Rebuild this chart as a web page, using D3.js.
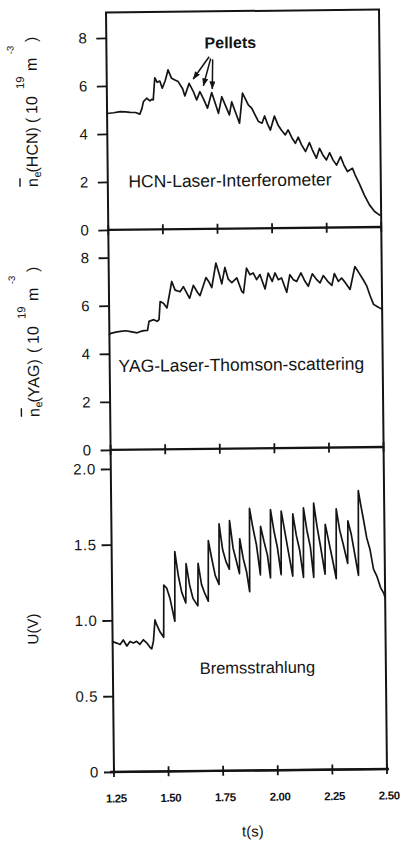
<!DOCTYPE html>
<html><head><meta charset="utf-8">
<script src="https://cdn.jsdelivr.net/npm/d3@7"></script>
<style>
body{margin:0;background:#fff}
text{font-family:"Liberation Sans",Arial,Helvetica,sans-serif}
</style>
</head><body>
<svg id="c" width="400" height="842"></svg>
<script>
// ---------- data ----------
const hcnT = [1.25,1.28,1.31,1.335,1.356,1.38,1.40,1.410,1.417,1.432,1.447,1.455,1.462,1.470,1.481,1.493,1.504,1.518,1.531,1.547,1.562,1.577,1.597,1.607,1.627,1.645,1.661,1.676,1.693,1.710,1.730,1.745,1.760,1.776,1.793,1.810,1.821,1.838,1.856,1.871,1.882,1.897,1.913,1.928,1.943,1.959,1.971,1.984,1.997,2.016,2.032,2.047,2.065,2.078,2.096,2.111,2.124,2.139,2.157,2.175,2.188,2.206,2.221,2.236,2.252,2.267,2.282,2.298,2.317,2.332,2.348,2.371,2.383,2.401,2.424,2.447,2.470,2.490,2.500];
const hcnV = [4.85,4.88,4.92,4.91,4.89,4.88,4.81,5.05,5.33,5.47,5.36,5.42,5.40,6.32,6.13,6.18,5.88,6.20,6.64,6.29,6.22,6.15,5.85,5.55,6.07,5.75,5.38,5.72,5.40,5.03,5.68,5.25,4.81,5.50,5.12,4.74,5.28,4.85,4.39,5.64,5.43,5.15,5.00,4.72,4.45,4.38,4.68,4.35,4.09,4.67,4.30,4.09,3.88,4.09,3.74,3.53,3.78,3.46,3.18,3.55,3.25,2.90,3.31,3.03,2.82,3.12,2.82,2.60,2.95,2.60,2.33,2.46,2.18,1.83,1.34,0.93,0.65,0.52,0.48];

const yagT = [1.25,1.256,1.28,1.301,1.325,1.347,1.378,1.395,1.408,1.425,1.432,1.454,1.469,1.478,1.484,1.499,1.515,1.538,1.553,1.576,1.591,1.619,1.637,1.655,1.667,1.695,1.710,1.721,1.741,1.756,1.767,1.782,1.797,1.813,1.836,1.858,1.866,1.881,1.896,1.911,1.927,1.942,1.965,1.980,1.998,2.011,2.026,2.041,2.064,2.079,2.095,2.110,2.130,2.148,2.163,2.182,2.202,2.217,2.232,2.252,2.271,2.283,2.301,2.316,2.328,2.354,2.377,2.392,2.415,2.431,2.446,2.461,2.477,2.492,2.500];
const yagV = [4.80,4.85,4.90,4.93,4.95,4.91,4.86,4.92,4.95,4.96,5.33,5.40,5.33,5.40,6.15,6.08,5.88,6.98,6.62,6.55,6.76,6.27,6.81,6.52,6.38,7.13,6.92,6.71,7.73,7.26,6.86,7.54,7.05,6.91,7.10,6.54,6.47,7.50,7.23,7.30,7.02,7.23,6.63,7.29,6.94,7.29,7.01,7.08,6.48,7.21,7.00,6.93,7.28,6.93,6.72,7.24,6.99,6.86,7.16,6.92,6.75,7.24,6.91,7.05,6.91,6.57,7.52,7.31,6.97,6.70,6.29,5.94,5.85,5.77,5.76];

const brT = [1.250,1.269,1.284,1.299,1.315,1.330,1.345,1.360,1.375,1.391,1.406,1.421,1.429,1.437,1.445,1.452,1.468,1.484,1.487,1.500,1.515,1.536,1.539,1.554,1.569,1.587,1.590,1.605,1.620,1.642,1.645,1.660,1.675,1.690,1.693,1.708,1.723,1.740,1.743,1.758,1.773,1.788,1.791,1.806,1.821,1.834,1.837,1.852,1.867,1.880,1.883,1.898,1.913,1.930,1.933,1.948,1.963,1.976,1.979,1.994,2.009,2.025,2.028,2.043,2.058,2.078,2.081,2.096,2.111,2.127,2.130,2.145,2.160,2.174,2.177,2.192,2.207,2.226,2.229,2.244,2.259,2.277,2.280,2.295,2.310,2.330,2.333,2.348,2.363,2.379,2.382,2.392,2.403,2.418,2.433,2.448,2.464,2.479,2.494,2.500];
const brU = [0.86,0.85,0.84,0.87,0.83,0.86,0.85,0.86,0.84,0.87,0.85,0.82,0.81,0.86,1.00,0.97,0.92,0.885,1.23,1.21,1.14,0.99,1.45,1.29,1.18,1.11,1.37,1.23,1.14,1.09,1.37,1.23,1.17,1.12,1.52,1.40,1.29,1.23,1.63,1.46,1.38,1.33,1.65,1.47,1.38,1.30,1.53,1.40,1.31,1.18,1.73,1.60,1.49,1.29,1.61,1.51,1.42,1.27,1.72,1.58,1.47,1.29,1.71,1.58,1.45,1.28,1.69,1.55,1.45,1.27,1.73,1.58,1.47,1.27,1.76,1.60,1.47,1.29,1.62,1.51,1.40,1.26,1.72,1.58,1.49,1.36,1.64,1.55,1.42,1.28,1.84,1.75,1.66,1.53,1.45,1.32,1.27,1.20,1.16,1.13];

const xTicks = [1.25,1.50,1.75,2.00,2.25,2.50];
const xTickLabels = ["1.25","1.50","1.75","2.00","2.25","2.50"];
const nTicks = [0,2,4,6,8];
const nTickLabels = ["0","2","4","6","8"];
const uTicks = [0,0.5,1.0,1.5,2.0];
const uTickLabels = ["0","0.5","1.0","1.5","2.0"];
// pellet arrows: [tStart, vStart, tTip, vTip]
const pelletArrows = [[1.720,7.17,1.646,6.25],[1.727,7.10,1.692,5.96],[1.736,7.06,1.733,5.83]];

// ---------- layout ----------
const L=110, R=383, T=11, B1=228.5, B2=448.5, B3=770.5;
const ink="#141414";
const x = d3.scaleLinear().domain([1.25,2.5]).range([L,R]);
const y1 = d3.scaleLinear().domain([0,8]).range([B1,36.5]);
const y2 = d3.scaleLinear().domain([0,8]).range([B2,256.2]);
const y3 = d3.scaleLinear().domain([0,2]).range([B3,467.5]);

const svg = d3.select("#c");
const defs = svg.append("defs");
defs.append("marker").attr("id","ah").attr("markerUnits","userSpaceOnUse")
  .attr("markerWidth",8).attr("markerHeight",6).attr("refX",7.5).attr("refY",3).attr("orient","auto")
  .append("path").attr("d","M0,0 L8,3 L0,6 Z").attr("fill",ink);

const g = svg.append("g").attr("transform","rotate(-0.6 245 392)");

// frame
g.append("rect").attr("x",L).attr("y",T).attr("width",R-L).attr("height",B3-T)
  .attr("fill","none").attr("stroke",ink).attr("stroke-width",2);
[B1,B2].forEach(b=>g.append("line").attr("x1",L).attr("x2",R).attr("y1",b).attr("y2",b)
  .attr("stroke",ink).attr("stroke-width",2.4));
g.append("line").attr("x1",L-4).attr("x2",R+2).attr("y1",B3).attr("y2",B3).attr("stroke",ink).attr("stroke-width",2.4);

// y axes
function yAxis(scale, vals, labels, pad){
  const ax = d3.axisLeft(scale).tickValues(vals).tickFormat((d,i)=>labels[i]).tickSize(10).tickPadding(pad);
  const a = g.append("g").attr("transform",`translate(${L},0)`).call(ax);
  a.select(".domain").remove();
  a.selectAll(".tick line").attr("stroke",ink).attr("stroke-width",1.8);
  a.selectAll(".tick text").attr("font-size",15).attr("fill",ink)
    .attr("font-family",'"Liberation Sans",Arial,sans-serif').attr("letter-spacing",0.6);
}
yAxis(y1, nTicks, nTickLabels, 9);
yAxis(y2, nTicks, nTickLabels, 9);
yAxis(y3, uTicks, uTickLabels, 5);

// x ticks at each panel boundary
[B1,B2,B3].forEach(b=>{
  g.append("g").selectAll("line").data(xTicks).join("line")
    .attr("x1",d=>x(d)).attr("x2",d=>x(d)).attr("y1",b-5).attr("y2",b+5)
    .attr("stroke",ink).attr("stroke-width",1.8);
});
g.append("g").selectAll("text").data(xTicks).join("text")
  .attr("x",d=>x(d)+2).attr("y",801).attr("text-anchor","middle")
  .attr("font-size",11.5).attr("font-weight","bold").attr("letter-spacing",-0.4).attr("fill",ink)
  .text((d,i)=>xTickLabels[i]);

g.append("text").attr("x",248.3).attr("y",836.5).attr("text-anchor","middle")
  .attr("font-size",15).attr("fill",ink).text("t(s)");

// curves
function curve(ts, vs, ys){
  g.append("path").datum(d3.zip(ts,vs))
    .attr("d", d3.line().x(d=>x(d[0])).y(d=>ys(d[1])))
    .attr("fill","none").attr("stroke",ink).attr("stroke-width",1.7)
    .attr("stroke-linejoin","round").attr("stroke-linecap","round");
}
curve(hcnT,hcnV,y1);
curve(yagT,yagV,y2);
curve(brT,brU,y3);

// panel titles
g.append("text").attr("x",232.2).attr("y",186.3).attr("text-anchor","middle").attr("font-size",17.5).attr("fill",ink).text("HCN-Laser-Interferometer");
g.append("text").attr("x",241.7).attr("y",370.7).attr("text-anchor","middle").attr("font-size",17.5).attr("fill",ink).text("YAG-Laser-Thomson-scattering");
g.append("text").attr("x",254.5).attr("y",673.4).attr("text-anchor","middle").attr("font-size",16.5).attr("fill",ink).text("Bremsstrahlung");

// pellets annotation
g.append("text").attr("x",234).attr("y",48).attr("text-anchor","middle").attr("font-size",16).attr("font-weight","bold").attr("fill",ink).text("Pellets");
g.append("g").selectAll("line").data(pelletArrows).join("line")
  .attr("x1",d=>x(d[0])).attr("y1",d=>y1(d[1])).attr("x2",d=>x(d[2])).attr("y2",d=>y1(d[3]))
  .attr("stroke",ink).attr("stroke-width",1.5).attr("marker-end","url(#ah)");

// y labels
function nLabel(x0, y0, name){
  const lg = g.append("g").attr("transform",`translate(${x0},${y0}) rotate(-90)`);
  const t = lg.append("text").attr("font-size",16).attr("fill",ink);
  const parts = [
    {s:"n",x:0,y:0,fs:16},{s:"e",x:9.5,y:3,fs:11},{s:"("+name+")",x:14.5,y:0,fs:16},
    {s:"(",x:64,y:0,fs:16},{s:"10",x:73,y:0,fs:16},{s:"19",x:98,y:-13,fs:11.5},
    {s:"m",x:116,y:0,fs:16},{s:"-3",x:133,y:-23,fs:9.5},{s:")",x:145,y:0,fs:16}];
  parts.forEach(p=>t.append("tspan").attr("x",p.x).attr("y",p.y).attr("font-size",p.fs).text(p.s));
  lg.append("line").attr("x1",0.5).attr("x2",9).attr("y1",-18).attr("y2",-18).attr("stroke",ink).attr("stroke-width",1.4);
}
nLabel(40.2,184.8,"HCN");
nLabel(39.2,414.8,"YAG");
g.append("text").attr("transform","translate(35.5,626.8) rotate(-90)").attr("text-anchor","middle")
  .attr("font-size",15).attr("fill",ink).text("U(V)");
</script>
</body></html>
